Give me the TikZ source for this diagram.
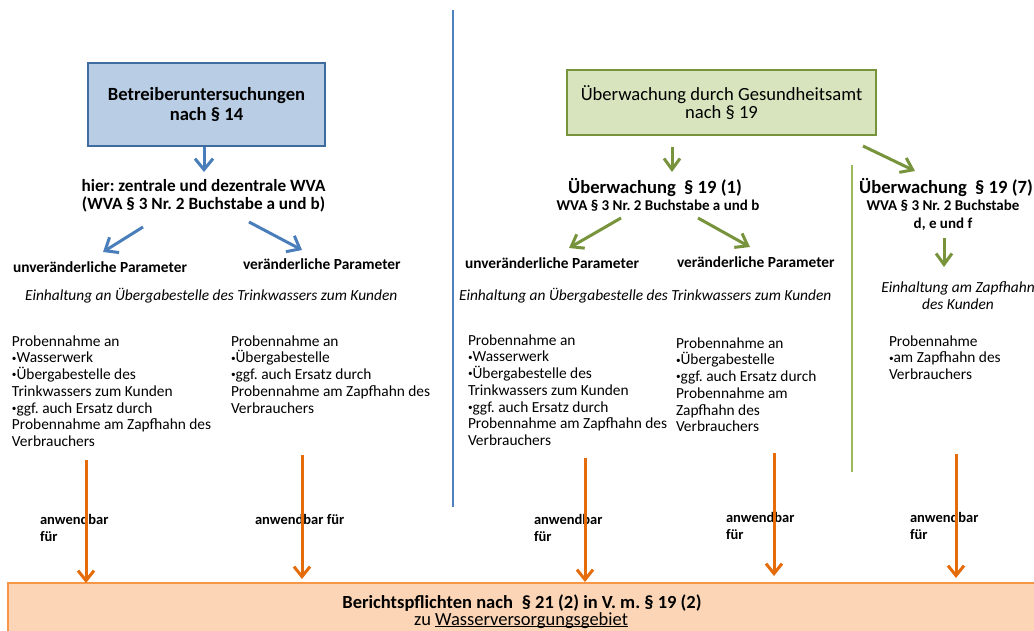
\documentclass[tikz,border=0pt]{standalone}
\usepackage{fontspec}
\setmainfont{Carlito}
\usetikzlibrary{arrows.meta}
\frenchspacing
\definecolor{bluefill}{HTML}{B9CDE5}
\definecolor{blueline}{HTML}{3F6C9F}
\definecolor{bluearr}{HTML}{4A7EBB}
\definecolor{bluethin}{HTML}{4F81BD}
\definecolor{greenfill}{HTML}{D7E4BD}
\definecolor{greenline}{HTML}{77933C}
\definecolor{greenthin}{HTML}{9BBB59}
\definecolor{orangearr}{HTML}{E46C0A}
\definecolor{orangefill}{HTML}{FBD5B5}
\definecolor{orangeline}{HTML}{F79646}
\newcommand{\fsz}[2]{\fontsize{#1}{#2}\selectfont}
\newcommand{\bul}{\raisebox{0.12em}{\scalebox{0.6}{•}}}
\newcommand{\myul}[1]{\setbox0\hbox{#1}\rlap{\rule[-2pt]{\wd0}{0.9pt}}\box0}
\begin{document}
\begin{tikzpicture}[x=1pt,y=-1pt,
  every node/.style={inner sep=0pt, outer sep=0pt, text=black},
  bluebox/.style={draw=blueline, fill=bluefill, line width=2.5pt, align=center, font=\bfseries\fsz{18.6}{20}},
  greenbox/.style={draw=greenline, fill=greenfill, line width=2.5pt, align=center, font=\fsz{18.6}{18}},
  barr/.style={draw=bluearr, line width=3pt, -{Straight Barb[length=11pt,width=18pt]}},
  garr/.style={draw=greenline, line width=3pt, -{Straight Barb[length=11pt,width=16pt]}},
  oarr/.style={draw=orangearr, line width=3pt, -{Straight Barb[length=10pt,width=16pt]}},
  bodytext/.style={align=left, anchor=north west, font=\fsz{15.4}{16.7}},
  param/.style={anchor=base west, font=\bfseries\fsz{15.4}{16.7}},
  einh/.style={anchor=base west, font=\itshape\fsz{15.4}{16.7}},
  lbl/.style={align=left, anchor=north west, font=\bfseries\fsz{14.5}{17}},
  bighead/.style={anchor=base, font=\bfseries\fsz{18.6}{20}},
  subhead/.style={font=\bfseries\fsz{15}{18}},
]
\useasboundingbox (0,0) rectangle (1034,630);

% separators
\draw[bluethin, line width=1.3pt] (453,10) -- (453,507);
\draw[greenthin, line width=1.2pt] (852,165) -- (852,472);

% left branch
\node[bluebox, minimum width=237pt, minimum height=83pt] (blue) at (206.5,104.5) {Betreiberuntersuchungen\\nach § 14};
\node[font=\bfseries\fsz{17.2}{18}, align=center] (hier) at (203.5,196) {hier: zentrale und dezentrale WVA\\(WVA § 3 Nr. 2 Buchstabe a und b)};
\node[param] (unvL) at (13,272) {unveränderliche Parameter};
\node[param] (verL) at (243,269) {veränderliche Parameter};
\node[einh] (einL) at (25,300) {Einhaltung an Übergabestelle des Trinkwassers zum Kunden};
\node[bodytext] (c1) at (12,335.5) {Probennahme an\\\bul Wasserwerk\\\bul Übergabestelle des\\Trinkwassers zum Kunden\\\bul ggf. auch Ersatz durch\\Probennahme am Zapfhahn des\\Verbrauchers};
\node[bodytext] (c2) at (231,335.5) {Probennahme an\\\bul Übergabestelle\\\bul ggf. auch Ersatz durch\\Probennahme am Zapfhahn des\\Verbrauchers};

\coordinate (b0s) at (204,147); \coordinate (b0e) at (204,172);
\coordinate (b1s) at (143,227); \coordinate (b1e) at (103,252);
\coordinate (b2s) at (249,222); \coordinate (b2e) at (302,250);
\draw[barr] (b0s) -- (b0e);
\draw[barr] (b1s) -- (b1e);
\draw[barr] (b2s) -- (b2e);

% right branch
\node[greenbox, minimum width=309pt, minimum height=65pt] (green) at (721.5,102.5) {Überwachung durch Gesundheitsamt\\nach § 19};
\node[bighead] (s1) at (655,193) {Überwachung~~§ 19 (1)};
\node[subhead, anchor=base] (s1sub) at (658,210) {WVA § 3 Nr. 2 Buchstabe a und b};
\node[bighead] (s7) at (946,193) {Überwachung~~§ 19 (7)};
\node[subhead, align=center, anchor=north] (s7sub) at (943,199.5) {WVA § 3 Nr. 2 Buchstabe\\d, e und f};
\node[param] (unvR) at (465,268) {unveränderliche Parameter};
\node[param] (verR) at (677,267) {veränderliche Parameter};
\node[einh] (einR) at (459,300) {Einhaltung an Übergabestelle des Trinkwassers zum Kunden};
\node[align=center, anchor=north, font=\itshape\fsz{15.4}{17}] (einZ) at (958,282) {Einhaltung am Zapfhahn\\des Kunden};
\node[bodytext] (c3) at (468,334.5) {Probennahme an\\\bul Wasserwerk\\\bul Übergabestelle des\\Trinkwassers zum Kunden\\\bul ggf. auch Ersatz durch\\Probennahme am Zapfhahn des\\Verbrauchers};
\node[bodytext] (c4) at (676,337.5) {Probennahme an\\\bul Übergabestelle\\\bul ggf. auch Ersatz durch\\Probennahme am\\Zapfhahn des\\Verbrauchers};
\node[bodytext] (c5) at (889,335.5) {Probennahme\\\bul am Zapfhahn des\\Verbrauchers};

\coordinate (g0s) at (672,147); \coordinate (g0e) at (672,172);
\coordinate (g1s) at (863,146); \coordinate (g1e) at (915,171);
\coordinate (g2s) at (621,218); \coordinate (g2e) at (569,248);
\coordinate (g3s) at (698,218); \coordinate (g3e) at (750,247);
\coordinate (g4s) at (944,238); \coordinate (g4e) at (944,267);
\draw[garr] (g0s) -- (g0e);
\draw[garr] (g1s) -- (g1e);
\draw[garr] (g2s) -- (g2e);
\draw[garr] (g3s) -- (g3e);
\draw[garr] (g4s) -- (g4e);

% report box
\node[draw=orangeline, fill=orangefill, line width=1.5pt, minimum width=1040pt, minimum height=60pt, anchor=north west] (report) at (8,583) {};
\node[anchor=base, font=\bfseries\fsz{18.5}{18}] (rep1) at (522,608) {Berichtspflichten nach\hspace{0.25em} § 21 (2) in V. m. § 19 (2)};
\node[anchor=base, font=\fsz{18.5}{18}] (rep2) at (521,625) {zu \myul{Wasserversorgungsgebiet}};

% labels
\node[lbl] (l1) at (40,514) {anwendbar\\für};
\node[lbl] (l2) at (255,514) {anwendbar für};
\node[lbl] (l3) at (534,514) {anwendbar\\für};
\node[lbl] (l4) at (726,512) {anwendbar\\für};
\node[lbl] (l5) at (910,512) {anwendbar\\für};

% orange arrows
\coordinate (o1s) at (86,460);  \coordinate (o1e) at (86,583);
\coordinate (o2s) at (302,455); \coordinate (o2e) at (302,579);
\coordinate (o3s) at (585,458); \coordinate (o3e) at (585,582);
\coordinate (o4s) at (774,453); \coordinate (o4e) at (774,576);
\coordinate (o5s) at (956,454); \coordinate (o5e) at (956,578);
\draw[oarr] (o1s) -- (o1e);
\draw[oarr] (o2s) -- (o2e);
\draw[oarr] (o3s) -- (o3e);
\draw[oarr] (o4s) -- (o4e);
\draw[oarr] (o5s) -- (o5e);
\end{tikzpicture}
\end{document}
